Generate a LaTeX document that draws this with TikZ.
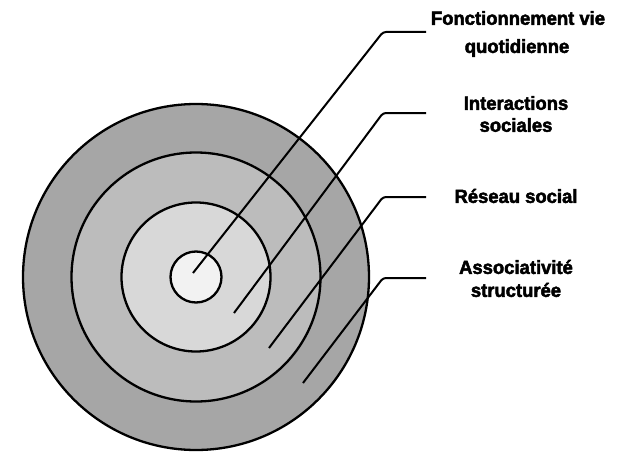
\documentclass[tikz,border=0pt]{standalone}
\usepackage{fontspec}
\setmainfont{Liberation Sans}[BoldFeatures={FakeStretch=0.97,FakeBold=2.5}]
\begin{document}
\begin{tikzpicture}[x=1pt,y=-1pt,
  ring/.style={circle,draw=black,line width=2.3pt,inner sep=0pt},
  leader/.style={line width=2pt,rounded corners=3pt},
  lbl/.style={font=\bfseries\fontsize{19}{22}\selectfont,align=center,inner sep=0pt}]
\useasboundingbox[fill=white] (0,0) rectangle (621,452);
\node[ring,fill={rgb,255:red,166;green,166;blue,166},minimum size=346pt] (c4) at (196,277) {};
\node[ring,fill={rgb,255:red,188;green,188;blue,188},minimum size=249pt] (c3) at (196,277) {};
\node[ring,fill={rgb,255:red,216;green,216;blue,216},minimum size=149pt] (c2) at (196,277) {};
\node[ring,fill={rgb,255:red,242;green,242;blue,242},minimum size=51pt] (c1) at (196,277) {};
% leader line coordinates
\coordinate (s1) at (193,273); \coordinate (k1) at (383,32);  \coordinate (e1) at (426,32);
\coordinate (s2) at (234,313); \coordinate (k2) at (383,113); \coordinate (e2) at (426,113);
\coordinate (s3) at (269,348); \coordinate (k3) at (383,197); \coordinate (e3) at (426,197);
\coordinate (s4) at (303,383); \coordinate (k4) at (383,278); \coordinate (e4) at (426,278);
\draw[leader] (s1) -- (k1) -- (e1);
\draw[leader] (s2) -- (k2) -- (e2);
\draw[leader] (s3) -- (k3) -- (e3);
\draw[leader] (s4) -- (k4) -- (e4);
% labels
\node[lbl] (l1a) at (518,18) {Fonctionnement vie};
\node[lbl] (l1b) at (517,48) {quotidienne};
\node[lbl] (l2a) at (516,103) {Interactions};
\node[lbl] (l2b) at (516,125) {sociales};
\node[lbl] (l3) at (516,196) {Réseau social};
\node[lbl] (l4a) at (516,267) {Associativité};
\node[lbl] (l4b) at (516,290) {structurée};
\end{tikzpicture}
\end{document}
